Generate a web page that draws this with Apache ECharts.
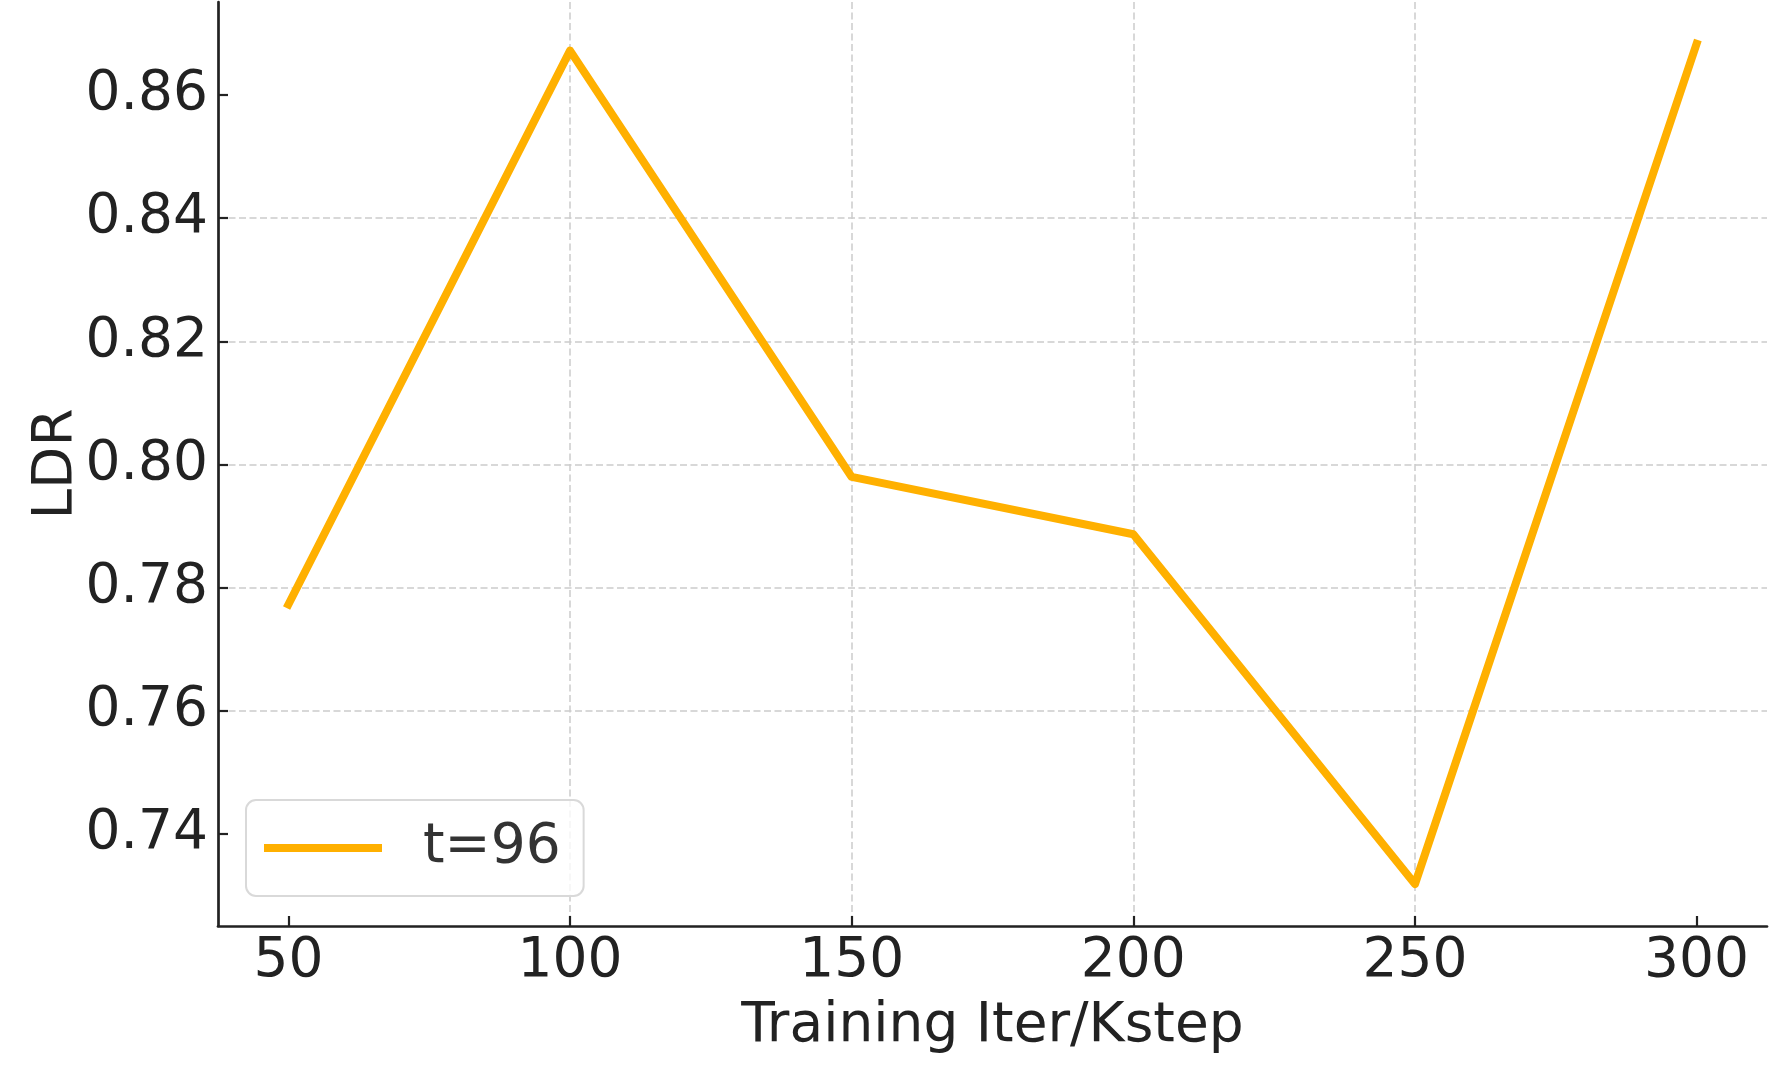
<!DOCTYPE html>
<html>
<head>
<meta charset="utf-8">
<script src="https://cdn.jsdelivr.net/npm/echarts@6/dist/echarts.min.js"></script>
<style>
html,body{margin:0;padding:0;background:#fff;}
#chart{width:1788px;height:1075px;}
</style>
</head>
<body>
<div id="chart"></div>
<script>
const steps = [50, 100, 150, 200, 250, 300];
const ldr = [0.7773, 0.8672, 0.7980, 0.7887, 0.7319, 0.8683];
const xTicks = [50, 100, 150, 200, 250, 300];
const yTicks = [0.74, 0.76, 0.78, 0.80, 0.82, 0.84, 0.86];
const seriesName = 't=96';
const xName = 'Training Iter/Kstep';
const yName = 'LDR';

const FONT = 'DejaVu Sans';
const chart = echarts.init(document.getElementById('chart'), null, {renderer: 'canvas'});
const gridLine = {show: true, showMinLine: false, showMaxLine: false,
  lineStyle: {color: '#cbcbcb', width: 1.5, type: [7, 3.5]}};
const axisLine = {show: true, onZero: false, lineStyle: {color: '#222', width: 2.7}};
chart.setOption({
  animation: false,
  backgroundColor: '#fff',
  grid: {left: 218, right: 21, top: 2, bottom: 149, containLabel: false},
  xAxis: {
    type: 'value', min: 37.5, max: 312.5, splitNumber: 5,
    name: xName, nameLocation: 'middle', nameGap: 73,
    nameTextStyle: {fontFamily: FONT, fontSize: 55, color: '#222'},
    axisLine: axisLine,
    axisTick: {show: true, inside: true, length: 10, customValues: xTicks, lineStyle: {color: '#222', width: 2.2}},
    axisLabel: {show: true, customValues: xTicks, margin: 8, fontFamily: FONT, fontSize: 55, color: '#222'},
    splitLine: gridLine
  },
  yAxis: {
    type: 'value', min: 0.7251, max: 0.8751, splitNumber: 7,
    name: yName, nameLocation: 'middle', nameGap: 134, nameRotate: 90, nameMoveOverlap: false,
    nameTextStyle: {fontFamily: FONT, fontSize: 55, color: '#222'},
    axisLine: axisLine,
    axisTick: {show: true, inside: true, length: 10, customValues: yTicks, lineStyle: {color: '#222', width: 2.2}},
    axisLabel: {show: true, customValues: yTicks, margin: 10, fontFamily: FONT, fontSize: 55, color: '#222',
      formatter: v => v.toFixed(2)},
    splitLine: gridLine
  },
  legend: {
    show: true, left: 246, top: 800, orient: 'vertical',
    icon: 'rect', itemWidth: 118, itemHeight: 8,
    padding: [18, 23, 18, 18],
    backgroundColor: 'rgba(255,255,255,0.8)',
    borderColor: '#d9d9d9', borderWidth: 2, borderRadius: 10,
    textStyle: {fontFamily: FONT, fontSize: 55, color: '#333', lineHeight: 60, padding: [0, 0, 0, 36]},
    data: [seriesName]
  },
  series: [{
    name: seriesName, type: 'line',
    data: steps.map((s, i) => [s, ldr[i]]),
    symbol: 'none', showSymbol: false,
    lineStyle: {color: '#FFB000', width: 8, cap: 'square', join: 'round'},
    itemStyle: {color: '#FFB000'}
  }]
});
</script>
</body>
</html>
